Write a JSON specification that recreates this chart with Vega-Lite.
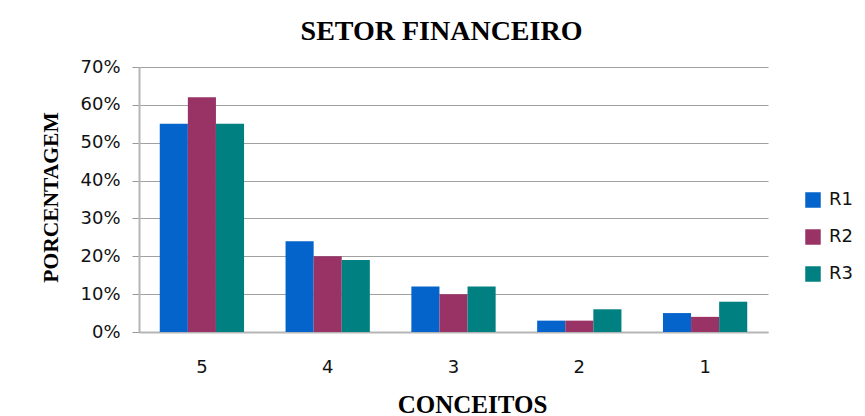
{
  "$schema": "https://vega.github.io/schema/vega-lite/v6.json",
  "autosize": {"type": "none"},
  "padding": {"left": 139, "top": 67, "right": 97, "bottom": 84},
  "width": 629,
  "height": 265,
  "background": "white",
  "title": {
    "text": "SETOR FINANCEIRO",
    "font": "Liberation Serif",
    "fontSize": 28,
    "fontWeight": "bold",
    "color": "#000000",
    "anchor": "middle",
    "dx": -12,
    "offset": 12
  },
  "data": {
    "values": [
      {"conceito": "5", "serie": "R1", "valor": 0.55},
      {"conceito": "5", "serie": "R2", "valor": 0.62},
      {"conceito": "5", "serie": "R3", "valor": 0.55},
      {"conceito": "4", "serie": "R1", "valor": 0.24},
      {"conceito": "4", "serie": "R2", "valor": 0.20},
      {"conceito": "4", "serie": "R3", "valor": 0.19},
      {"conceito": "3", "serie": "R1", "valor": 0.12},
      {"conceito": "3", "serie": "R2", "valor": 0.10},
      {"conceito": "3", "serie": "R3", "valor": 0.12},
      {"conceito": "2", "serie": "R1", "valor": 0.03},
      {"conceito": "2", "serie": "R2", "valor": 0.03},
      {"conceito": "2", "serie": "R3", "valor": 0.06},
      {"conceito": "1", "serie": "R1", "valor": 0.05},
      {"conceito": "1", "serie": "R2", "valor": 0.04},
      {"conceito": "1", "serie": "R3", "valor": 0.08}
    ]
  },
  "mark": {"type": "bar"},
  "encoding": {
    "x": {
      "field": "conceito",
      "type": "nominal",
      "sort": ["5", "4", "3", "2", "1"],
      "scale": {"paddingInner": 0.33, "paddingOuter": 0.165},
      "axis": {
        "title": "CONCEITOS",
        "titleFont": "Liberation Serif",
        "titleFontSize": 25,
        "titleFontWeight": "bold",
        "titleColor": "#000000",
        "titleX": 333,
        "titleY": 80,
        "titleBaseline": "alphabetic",
        "labelAngle": 0,
        "labelFont": "DejaVu Sans",
        "labelFontSize": 18,
        "labelColor": "#111111",
        "labelPadding": 26,
        "ticks": false,
        "domainColor": "#b5b5b5",
        "domainWidth": 2,
        "grid": false
      }
    },
    "xOffset": {"field": "serie", "sort": ["R1", "R2", "R3"]},
    "y": {
      "field": "valor",
      "type": "quantitative",
      "scale": {"domain": [0, 0.7], "nice": false},
      "axis": {
        "title": "PORCENTAGEM",
        "titleFont": "Liberation Serif",
        "titleFontSize": 21.5,
        "titleFontWeight": "bold",
        "titleColor": "#000000",
        "titleX": -82,
        "titleY": 130,
        "titleBaseline": "alphabetic",
        "format": ".0%",
        "values": [0, 0.1, 0.2, 0.3, 0.4, 0.5, 0.6, 0.7],
        "labelFont": "DejaVu Sans",
        "labelFontSize": 18,
        "labelColor": "#111111",
        "labelPadding": 12,
        "tickSize": 7,
        "tickColor": "#999999",
        "domainColor": "#b5b5b5",
        "domainWidth": 2,
        "gridColor": "#a0a0a0",
        "gridWidth": 1.2
      }
    },
    "color": {
      "field": "serie",
      "type": "nominal",
      "scale": {"domain": ["R1", "R2", "R3"], "range": ["#0563CC", "#993366", "#008080"]},
      "legend": {
        "title": null,
        "orient": "none",
        "legendX": 665,
        "legendY": 124,
        "symbolType": "square",
        "symbolSize": 240,
        "symbolStrokeWidth": 0,
        "labelFont": "DejaVu Sans",
        "labelFontSize": 18,
        "labelColor": "#111111",
        "labelOffset": 7,
        "rowPadding": 19
      }
    }
  },
  "config": {
    "view": {"stroke": null}
  }
}
